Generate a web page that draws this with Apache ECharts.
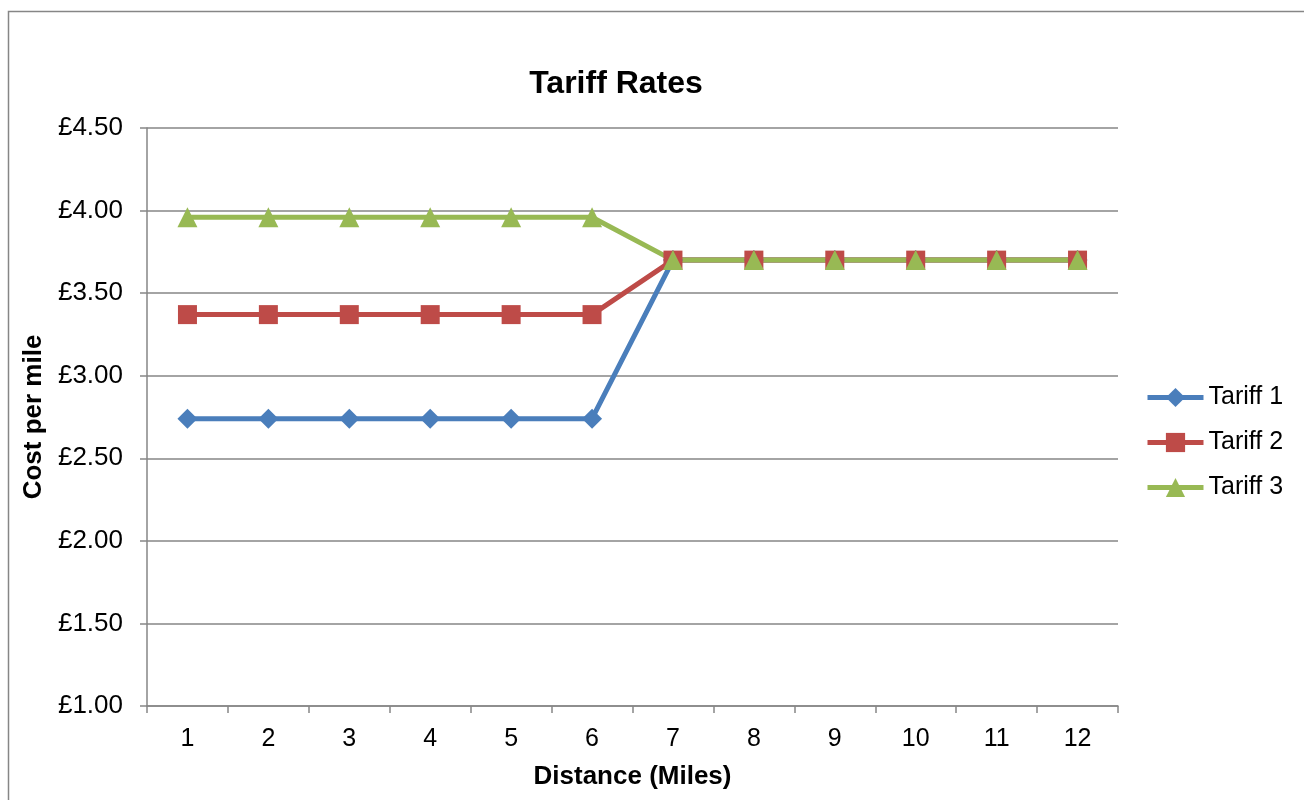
<!DOCTYPE html>
<html>
<head>
<meta charset="utf-8">
<script src="https://cdn.jsdelivr.net/npm/echarts@6/dist/echarts.min.js"></script>
<style>
  html, body { margin: 0; padding: 0; background: #fff; overflow: hidden; }
  #chart { width: 1304px; height: 800px; }
</style>
</head>
<body>
<div id="chart"></div>
<script>
// Distance bands (miles)
const distances = ['1', '2', '3', '4', '5', '6', '7', '8', '9', '10', '11', '12'];

// Cost per mile (£) for each tariff
const tariff1 = [2.74, 2.74, 2.74, 2.74, 2.74, 2.74, 3.70, 3.70, 3.70, 3.70, 3.70, 3.70];
const tariff2 = [3.37, 3.37, 3.37, 3.37, 3.37, 3.37, 3.70, 3.70, 3.70, 3.70, 3.70, 3.70];
const tariff3 = [3.96, 3.96, 3.96, 3.96, 3.96, 3.96, 3.70, 3.70, 3.70, 3.70, 3.70, 3.70];

const seriesNames = ['Tariff 1', 'Tariff 2', 'Tariff 3'];

const FONT = '"Liberation Sans", Arial, sans-serif';
const AXIS_GREY = '#868686';

const chart = echarts.init(document.getElementById('chart'), null, { renderer: 'canvas' });

function lineSeries(name, data, color, symbol, size) {
  return {
    name: name,
    type: 'line',
    data: data,
    symbol: symbol,
    symbolSize: size,
    showSymbol: true,
    lineStyle: { color: color, width: 5 },
    itemStyle: { color: color },
    emphasis: { disabled: true },
    animation: false
  };
}

chart.setOption({
  backgroundColor: '#ffffff',
  graphic: [{
    type: 'rect',
    shape: { x: 8.5, y: 11.5, width: 1400, height: 900 },
    style: { fill: 'none', stroke: AXIS_GREY, lineWidth: 1.5 },
    silent: true,
    z: -10
  }],
  title: {
    text: 'Tariff Rates',
    left: 611,
    top: 63,
    textAlign: 'center',
    textStyle: { fontFamily: FONT, fontSize: 32, fontWeight: 'bold', color: '#000' }
  },
  legend: {
    orient: 'vertical',
    left: 1140,
    top: 380,
    itemWidth: 56,
    itemHeight: 24,
    itemGap: 20,
    data: seriesNames,
    lineStyle: { width: 5 },
    textStyle: { fontFamily: FONT, fontSize: 25, lineHeight: 24, color: '#000', padding: [0, 0, 0, 0] }
  },
  grid: { left: 147, right: 186, top: 128, bottom: 94, containLabel: false },
  xAxis: {
    type: 'category',
    data: distances,
    boundaryGap: true,
    name: 'Distance (Miles)',
    nameLocation: 'middle',
    nameGap: 58,
    nameTextStyle: { fontFamily: FONT, fontSize: 26, fontWeight: 'bold', color: '#000' },
    axisLine: { show: true, lineStyle: { color: AXIS_GREY, width: 1.5 } },
    axisTick: { show: true, alignWithLabel: false, length: 7, lineStyle: { color: AXIS_GREY, width: 1.5 } },
    axisLabel: { fontFamily: FONT, fontSize: 25, color: '#000', margin: 21 },
    splitLine: { show: false }
  },
  yAxis: {
    type: 'value',
    min: 1,
    max: 4.5,
    interval: 0.5,
    name: 'Cost per mile',
    nameLocation: 'middle',
    nameGap: 100,
    nameRotate: 90,
    nameTextStyle: { fontFamily: FONT, fontSize: 26, fontWeight: 'bold', color: '#000' },
    axisLine: { show: true, lineStyle: { color: AXIS_GREY, width: 1.5 } },
    axisTick: { show: true, length: 7, lineStyle: { color: AXIS_GREY, width: 1.5 } },
    axisLabel: {
      fontFamily: FONT, fontSize: 26, color: '#000', margin: 24,
      formatter: v => '£' + v.toFixed(2)
    },
    splitLine: { show: true, lineStyle: { color: AXIS_GREY, width: 1.5 } }
  },
  series: [
    lineSeries(seriesNames[0], tariff1, '#4A7EBB', 'diamond', 20),
    lineSeries(seriesNames[1], tariff2, '#BE4B48', 'rect', 19),
    lineSeries(seriesNames[2], tariff3, '#98B954', 'triangle', 20)
  ],
  animation: false
});
</script>
</body>
</html>
